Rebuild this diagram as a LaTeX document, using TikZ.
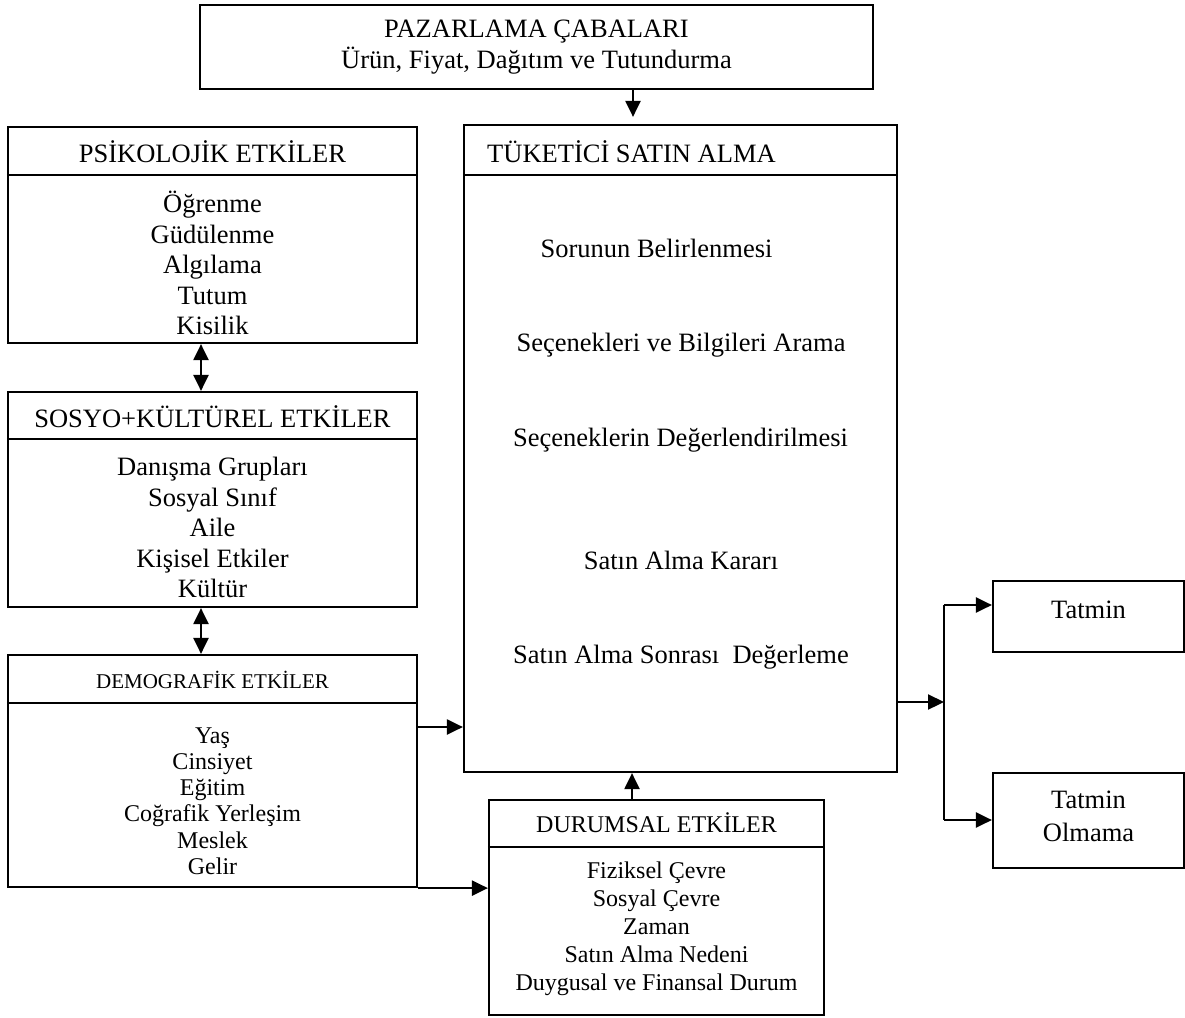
\documentclass[tikz,border=0pt]{standalone}
\usepackage{fontspec}
\setmainfont{Liberation Serif}
\usetikzlibrary{arrows.meta,calc}

\begin{document}
\begin{tikzpicture}[x=1pt,y=-1pt,
  frame/.style={draw=black,line width=2.2pt},
  txt/.style={inner sep=0pt,align=center,font=\fontsize{26.5}{30.5}\selectfont},
  smalltxt/.style={inner sep=0pt,align=center,font=\fontsize{24}{27}\selectfont},
  link/.style={line width=2.2pt,-{Triangle[length=16pt,width=15pt]}},
  duallink/.style={line width=2.2pt,{Triangle[length=16pt,width=15pt]}-{Triangle[length=16pt,width=15pt]}},
  plain/.style={line width=2.2pt}]

\useasboundingbox (0,0) rectangle (1185,1017);

% --- boxes (outer frames) ---
\node[frame,minimum width=673pt,minimum height=84pt,inner sep=0pt] (paz) at (536.5,47) {};
\node[frame,minimum width=409pt,minimum height=216pt,inner sep=0pt] (psi) at (212.5,235) {};
\node[frame,minimum width=409pt,minimum height=215pt,inner sep=0pt] (sos) at (212.5,499.5) {};
\node[frame,minimum width=409pt,minimum height=232pt,inner sep=0pt] (dem) at (212.5,771) {};
\node[frame,minimum width=433pt,minimum height=647pt,inner sep=0pt] (tuk) at (680.5,448.5) {};
\node[frame,minimum width=335pt,minimum height=215pt,inner sep=0pt] (dur) at (656.5,907.5) {};
\node[frame,minimum width=191pt,minimum height=71pt,inner sep=0pt] (tat) at (1088.5,616.5) {};
\node[frame,minimum width=191pt,minimum height=95pt,inner sep=0pt] (tol) at (1088.5,820.5) {};

% --- header separators ---
\draw[plain] (psi.west |- 0,175) -- (psi.east |- 0,175);
\draw[plain] (sos.west |- 0,439) -- (sos.east |- 0,439);
\draw[plain] (dem.west |- 0,703) -- (dem.east |- 0,703);
\draw[plain] (tuk.west |- 0,175) -- (tuk.east |- 0,175);
\draw[plain] (dur.west |- 0,847) -- (dur.east |- 0,847);

% --- texts ---
\node[txt] (pazt) at (536.5,47) {PAZARLAMA ÇABALARI\\Ürün, Fiyat, Dağıtım ve Tutundurma};

\node[txt] (psih) at (212.5,152) {PSİKOLOJİK ETKİLER};
\node[txt] (psii) at (212.5,263) {Öğrenme\\Güdülenme\\Algılama\\Tutum\\Kisilik};

\node[txt] (sosh) at (212.5,417) {SOSYO+KÜLTÜREL ETKİLER};
\node[txt] (sosi) at (212.5,527.5) {Danışma Grupları\\Sosyal Sınıf\\Aile\\Kişisel Etkiler\\Kültür};

\node[inner sep=0pt,font=\fontsize{21}{24}\selectfont] (demh) at (212.5,680) {DEMOGRAFİK ETKİLER};
\node[smalltxt,font=\fontsize{24}{26.2}\selectfont] (demi) at (212.5,801) {Yaş\\Cinsiyet\\Eğitim\\Coğrafik Yerleşim\\Meslek\\Gelir};

\node[txt,anchor=west] (tukh) at (487,152) {TÜKETİCİ SATIN ALMA};
\node[txt] (s1) at (656.5,248) {Sorunun Belirlenmesi};
\node[txt] (s2) at (681,345) {Seçenekleri ve Bilgileri Arama};
\node[txt] (s3) at (680.5,440) {Seçeneklerin Değerlendirilmesi};
\node[txt] (s4) at (681,560) {Satın Alma Kararı};
\node[txt] (s5) at (681,657) {Satın Alma Sonrası\ \ Değerleme};

\node[smalltxt] (durh) at (656.5,823) {DURUMSAL ETKİLER};
\node[smalltxt,font=\fontsize{24}{28}\selectfont] (duri) at (656.5,929) {Fiziksel Çevre\\Sosyal Çevre\\Zaman\\Satın Alma Nedeni\\Duygusal ve Finansal Durum};

\node[txt] (tatt) at (1088.5,610) {Tatmin};
\node[txt,font=\fontsize{26.5}{33}\selectfont] (tolt) at (1088.5,816.5) {Tatmin\\Olmama};

% --- connectors ---
\draw[link,shorten >=7pt] (paz.south -| 633,0) -- (tuk.north -| 633,0);
\draw[duallink] (psi.south -| 201,0) -- (sos.north -| 201,0);
\draw[duallink] (sos.south -| 201,0) -- (dem.north -| 201,0);
\draw[link] (dem.east |- 0,727) -- (tuk.west |- 0,727);
\draw[link] (dem.south east) -- (dur.west |- dem.south east);
\draw[link] (dur.north -| 632,0) -- (tuk.south -| 632,0);

\coordinate (br) at (944,702);
\coordinate (brtop) at (944,605);
\coordinate (brbot) at (944,820);
\draw[link] (tuk.east |- br) -- (br);
\draw[plain] (brtop) -- (brbot);
\draw[link] (brtop) -- (tat.west |- brtop);
\draw[link] (brbot) -- (tol.west |- brbot);
\end{tikzpicture}
\end{document}
